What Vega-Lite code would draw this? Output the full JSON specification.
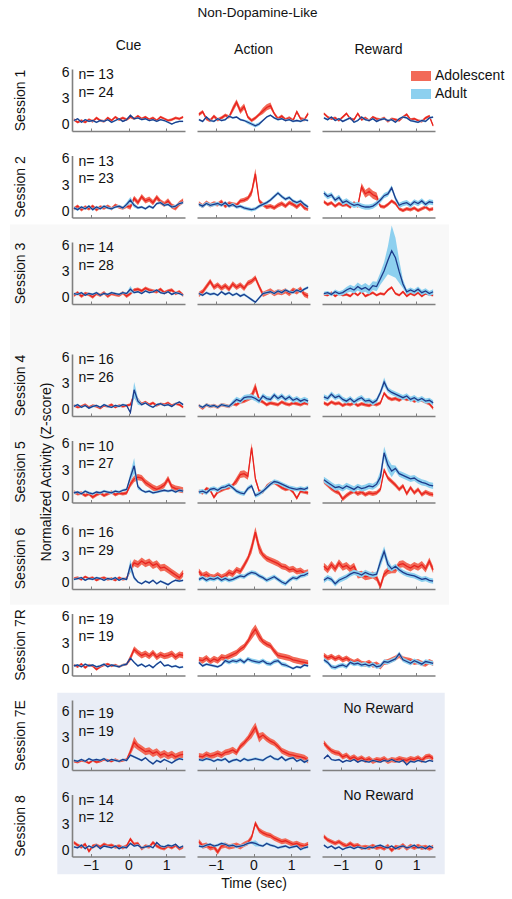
{
"$schema":"https://vega.github.io/schema/vega-lite/v6.json",
"padding":{"left":10,"top":5,"right":5,"bottom":5},
"title":{"text":"Non-Dopamine-Like","fontSize":13.5,"offset":20,"anchor":"middle"},
"data":{"values":"s,c,t,a,ae,d,de\n1,C,-1.45,.6,.15,.5,.1\n1,C,-1.35,.3,.15,.7,.1\n1,C,-1.25,.5,.15,.3,.1\n1,C,-1.15,.3,.15,.6,.1\n1,C,-1.05,.6,.15,.4,.1\n1,C,-.95,.4,.15,.5,.1\n1,C,-.85,.8,.15,.3,.1\n1,C,-.75,.5,.15,.5,.1\n1,C,-.65,.4,.15,.4,.1\n1,C,-.55,.8,.15,.6,.1\n1,C,-.45,.5,.15,.3,.1\n1,C,-.35,.9,.15,.5,.1\n1,C,-.25,.6,.15,.7,.1\n1,C,-.15,.8,.15,.4,.1\n1,C,-.05,.6,.15,.6,.1\n1,C,.05,.9,.15,1.1,.1\n1,C,.15,.7,.15,.7,.1\n1,C,.25,1,.15,.8,.1\n1,C,.35,.7,.15,.6,.1\n1,C,.45,.9,.15,.7,.1\n1,C,.55,.6,.15,.5,.1\n1,C,.65,.8,.15,.6,.1\n1,C,.75,.5,.15,.4,.1\n1,C,.85,.9,.15,.6,.1\n1,C,.95,.7,.15,.5,.1\n1,C,1.05,.5,.15,.3,.1\n1,C,1.15,.6,.15,.1,.1\n1,C,1.25,.8,.15,.3,.1\n1,C,1.35,.7,.15,.4,.1\n1,C,1.45,.9,.15,.4,.1\n1,A,-1.45,1.2,.2,.6,.12\n1,A,-1.35,1.5,.2,.4,.12\n1,A,-1.25,.7,.2,.9,.12\n1,A,-1.15,.5,.2,.5,.12\n1,A,-1.05,1,.2,.4,.12\n1,A,-.95,.6,.2,.7,.12\n1,A,-.85,.8,.2,.5,.12\n1,A,-.75,1.1,.2,.6,.12\n1,A,-.65,.9,.2,1,.12\n1,A,-.55,1.8,.35,.8,.12\n1,A,-.45,2.6,.35,.9,.12\n1,A,-.35,1.6,.35,.6,.12\n1,A,-.25,2.1,.35,.5,.12\n1,A,-.15,.9,.2,.3,.2\n1,A,-.05,.5,.2,.1,.2\n1,A,.05,.8,.2,-.1,.2\n1,A,.15,1.2,.2,.1,.2\n1,A,.25,1.6,.35,.5,.12\n1,A,.35,2,.35,.9,.12\n1,A,.45,2.2,.35,1.1,.12\n1,A,.55,1.3,.2,.8,.12\n1,A,.65,.7,.2,.6,.12\n1,A,.75,1,.2,.7,.12\n1,A,.85,.6,.2,.5,.12\n1,A,.95,.8,.2,.6,.12\n1,A,1.05,.5,.2,.4,.12\n1,A,1.15,1.5,.2,.5,.12\n1,A,1.25,.7,.2,.4,.12\n1,A,1.35,.6,.2,.6,.12\n1,A,1.45,1.3,.2,.5,.12\n1,R,-1.45,1.3,.15,.8,.12\n1,R,-1.35,.9,.15,.6,.12\n1,R,-1.25,.7,.15,.9,.12\n1,R,-1.15,.8,.15,.5,.12\n1,R,-1.05,.5,.15,.7,.12\n1,R,-.95,.9,.15,.4,.12\n1,R,-.85,1.3,.15,.6,.12\n1,R,-.75,.7,.15,.8,.12\n1,R,-.65,.6,.15,.3,.12\n1,R,-.55,1.3,.15,.5,.12\n1,R,-.45,.6,.15,.9,.12\n1,R,-.35,.8,.15,.6,.12\n1,R,-.25,.5,.15,.5,.12\n1,R,-.15,.9,.15,.7,.12\n1,R,-.05,.7,.15,.4,.12\n1,R,.05,.6,.15,.6,.12\n1,R,.15,.8,.15,.7,.12\n1,R,.25,.4,.15,.5,.12\n1,R,.35,.7,.15,.6,.12\n1,R,.45,.6,.15,.3,.12\n1,R,.55,.5,.15,.7,.12\n1,R,.65,.9,.15,.9,.12\n1,R,.75,1.2,.15,.8,.12\n1,R,.85,.6,.15,.5,.12\n1,R,.95,.7,.15,.4,.12\n1,R,1.05,.5,.15,.3,.12\n1,R,1.15,.4,.15,.5,.12\n1,R,1.25,.8,.15,.4,.12\n1,R,1.35,1,.15,.8,.12\n1,R,1.45,-.1,.15,.9,.12\n2,C,-1.45,.3,.2,.4,.15\n2,C,-1.35,.6,.2,.2,.15\n2,C,-1.25,.2,.2,.5,.15\n2,C,-1.15,.5,.2,.3,.15\n2,C,-1.05,.3,.2,.6,.15\n2,C,-.95,.6,.2,.2,.15\n2,C,-.85,.2,.2,.5,.15\n2,C,-.75,.5,.2,.3,.15\n2,C,-.65,.4,.2,.6,.15\n2,C,-.55,.6,.2,.4,.15\n2,C,-.45,.3,.2,.3,.15\n2,C,-.35,.7,.2,.5,.15\n2,C,-.25,.5,.2,.6,.15\n2,C,-.15,.4,.2,.4,.15\n2,C,-.05,.6,.2,.8,.25\n2,C,.05,.5,.3,1.3,.35\n2,C,.15,1.5,.3,.7,.25\n2,C,.25,1,.3,.4,.15\n2,C,.35,1.7,.3,.5,.15\n2,C,.45,1.2,.3,.3,.15\n2,C,.55,1.4,.3,.6,.15\n2,C,.65,1,.3,.4,.15\n2,C,.75,1.6,.3,.9,.15\n2,C,.85,1.1,.3,1,.15\n2,C,.95,.8,.3,.7,.15\n2,C,1.05,1.2,.3,.8,.15\n2,C,1.15,.6,.3,.5,.15\n2,C,1.25,.4,.3,.6,.15\n2,C,1.35,.9,.3,.9,.15\n2,C,1.45,1.2,.3,1,.15\n2,A,-1.45,.9,.25,.8,.2\n2,A,-1.35,.6,.25,.6,.2\n2,A,-1.25,1,.25,.9,.2\n2,A,-1.15,.7,.25,.7,.2\n2,A,-1.05,.9,.25,.8,.2\n2,A,-.95,.8,.25,.9,.2\n2,A,-.85,1.1,.25,.7,.2\n2,A,-.75,.6,.25,1,.2\n2,A,-.65,.9,.25,.6,.2\n2,A,-.55,.8,.25,.8,.2\n2,A,-.45,.7,.25,.5,.2\n2,A,-.35,1.2,.25,.6,.2\n2,A,-.25,1.3,.25,.4,.2\n2,A,-.15,1.5,.25,.3,.2\n2,A,-.05,2.2,.4,.2,.2\n2,A,.05,4.3,.6,.3,.2\n2,A,.15,1.2,.25,.6,.2\n2,A,.25,.8,.25,.8,.2\n2,A,.35,.5,.25,1,.2\n2,A,.45,.6,.25,1.3,.2\n2,A,.55,.4,.25,1.7,.2\n2,A,.65,.7,.25,2.1,.2\n2,A,.75,.9,.25,1.7,.2\n2,A,.85,.6,.25,1.4,.2\n2,A,.95,1,.25,1.6,.2\n2,A,1.05,.8,.25,1.2,.2\n2,A,1.15,.5,.25,1,.2\n2,A,1.25,.9,.25,1.2,.2\n2,A,1.35,.4,.25,.8,.2\n2,A,1.45,.3,.25,.5,.2\n2,R,-1.45,1.1,.2,2.1,.3\n2,R,-1.35,.8,.2,1.7,.3\n2,R,-1.25,1,.2,1.9,.3\n2,R,-1.15,.6,.2,1.3,.3\n2,R,-1.05,.9,.2,1.6,.3\n2,R,-.95,.7,.2,1,.3\n2,R,-.85,.8,.2,1.2,.3\n2,R,-.75,.5,.2,.9,.3\n2,R,-.65,1,.2,.7,.3\n2,R,-.55,.6,.2,.8,.3\n2,R,-.45,2.8,.45,.6,.3\n2,R,-.35,2,.45,.5,.3\n2,R,-.25,2.3,.45,.5,.3\n2,R,-.15,1.9,.45,.6,.3\n2,R,-.05,1.7,.45,.9,.3\n2,R,.05,.6,.2,1.3,.3\n2,R,.15,.5,.2,1.8,.3\n2,R,.25,.8,.2,2,.3\n2,R,.35,1.2,.2,2.7,.3\n2,R,.45,.9,.2,1.5,.3\n2,R,.55,.3,.2,.7,.3\n2,R,.65,.1,.2,.9,.3\n2,R,.75,.3,.2,1,.3\n2,R,.85,.2,.2,.7,.3\n2,R,.95,.4,.2,1.1,.3\n2,R,1.05,.1,.2,.9,.3\n2,R,1.15,.3,.2,1.2,.3\n2,R,1.25,.5,.2,.8,.3\n2,R,1.35,.2,.2,1.1,.3\n2,R,1.45,.3,.2,1,.3\n3,C,-1.45,.3,.2,.5,.12\n3,C,-1.35,.6,.2,.4,.12\n3,C,-1.25,.2,.2,.6,.12\n3,C,-1.15,.5,.2,.3,.12\n3,C,-1.05,.4,.2,.5,.12\n3,C,-.95,.1,.2,.4,.12\n3,C,-.85,.5,.2,.6,.12\n3,C,-.75,.3,.2,.3,.12\n3,C,-.65,.6,.2,.5,.12\n3,C,-.55,.2,.2,.4,.12\n3,C,-.45,.5,.2,.6,.12\n3,C,-.35,.4,.2,.5,.12\n3,C,-.25,.3,.2,.4,.12\n3,C,-.15,.6,.2,.6,.12\n3,C,-.05,.2,.2,.5,.12\n3,C,.05,.5,.2,1,.35\n3,C,.15,.9,.2,.6,.12\n3,C,.25,1,.2,.7,.12\n3,C,.35,.8,.2,.5,.12\n3,C,.45,1.1,.2,.8,.12\n3,C,.55,.9,.2,.6,.12\n3,C,.65,.8,.2,.7,.12\n3,C,.75,.7,.2,.9,.12\n3,C,.85,1,.2,.6,.12\n3,C,.95,.6,.2,.5,.12\n3,C,1.05,.8,.2,.7,.12\n3,C,1.15,.9,.2,.4,.12\n3,C,1.25,.5,.2,.6,.12\n3,C,1.35,.7,.2,.5,.12\n3,C,1.45,.3,.2,.3,.12\n3,A,-1.45,.4,.3,.5,.15\n3,A,-1.35,.7,.3,.3,.15\n3,A,-1.25,1.3,.3,.6,.15\n3,A,-1.15,1.9,.3,.4,.15\n3,A,-1.05,1.2,.3,.5,.15\n3,A,-.95,1.5,.3,.3,.15\n3,A,-.85,1.1,.3,.7,.15\n3,A,-.75,1.4,.3,.4,.15\n3,A,-.65,1,.3,.6,.15\n3,A,-.55,1.6,.3,.3,.15\n3,A,-.45,1.2,.3,.5,.15\n3,A,-.35,1.5,.3,.2,.15\n3,A,-.25,1.1,.3,.4,.15\n3,A,-.15,1.7,.3,.1,.15\n3,A,-.05,1.9,.3,-.2,.15\n3,A,.05,2.3,.3,-.5,.15\n3,A,.15,1.3,.3,0,.15\n3,A,.25,.4,.3,.5,.15\n3,A,.35,.6,.3,.6,.15\n3,A,.45,.8,.3,.7,.15\n3,A,.55,.5,.3,.5,.15\n3,A,.65,.7,.3,.8,.15\n3,A,.75,.6,.3,.6,.15\n3,A,.85,.8,.3,.9,.15\n3,A,.95,.5,.3,.7,.15\n3,A,1.05,.9,.3,.6,.15\n3,A,1.15,.7,.3,.9,.15\n3,A,1.25,1,.3,.7,.15\n3,A,1.35,.4,.3,1,.15\n3,A,1.45,.2,.3,1.2,.15\n3,R,-1.45,.4,.15,.5,.2\n3,R,-1.35,.3,.15,.6,.2\n3,R,-1.25,.6,.15,.4,.2\n3,R,-1.15,.2,.15,.7,.25\n3,R,-1.05,.5,.15,.5,.25\n3,R,-.95,.3,.15,.6,.3\n3,R,-.85,.4,.15,.9,.35\n3,R,-.75,.2,.15,1.1,.4\n3,R,-.65,.6,.15,.9,.4\n3,R,-.55,.3,.15,1.3,.45\n3,R,-.45,.7,.15,1,.45\n3,R,-.35,.2,.15,1.2,.5\n3,R,-.25,.4,.15,.9,.5\n3,R,-.15,.6,.15,1.4,.5\n3,R,-.05,.3,.15,1.3,.55\n3,R,.05,.5,.15,2.2,.7\n3,R,.15,.4,.15,3.1,1\n3,R,.25,.9,.15,4.3,1.6\n3,R,.35,1.2,.15,5.4,2.9\n3,R,.45,.5,.15,4.6,2.3\n3,R,.55,.3,.15,3,1.3\n3,R,.65,.7,.15,1.6,.5\n3,R,.75,.2,.15,.7,.3\n3,R,.85,.5,.15,.9,.3\n3,R,.95,.3,.15,.7,.3\n3,R,1.05,.6,.15,1,.3\n3,R,1.15,.2,.15,.6,.3\n3,R,1.25,.5,.15,.8,.3\n3,R,1.35,.4,.15,.5,.3\n3,R,1.45,.3,.15,.7,.3\n4,C,-1.45,.5,.15,.4,.12\n4,C,-1.35,.3,.15,.6,.12\n4,C,-1.25,.4,.15,.3,.12\n4,C,-1.15,.6,.15,.5,.12\n4,C,-1.05,.3,.15,.2,.12\n4,C,-.95,.5,.15,.4,.12\n4,C,-.85,.4,.15,.5,.12\n4,C,-.75,.2,.15,.3,.12\n4,C,-.65,.5,.15,.6,.12\n4,C,-.55,.4,.15,.4,.12\n4,C,-.45,.6,.15,.3,.12\n4,C,-.35,.3,.15,.5,.12\n4,C,-.25,.5,.15,.4,.12\n4,C,-.15,.4,.15,.6,.12\n4,C,-.05,.5,.15,.5,.12\n4,C,.05,.6,.15,-.3,.12\n4,C,.15,1.8,.4,2.3,.9\n4,C,.25,1.1,.3,1,.4\n4,C,.35,.7,.15,.6,.12\n4,C,.45,.9,.15,.8,.12\n4,C,.55,.6,.15,.5,.12\n4,C,.65,.8,.15,.3,.12\n4,C,.75,.5,.15,.6,.12\n4,C,.85,.7,.15,.7,.12\n4,C,.95,.6,.15,.5,.12\n4,C,1.05,.8,.15,.6,.12\n4,C,1.15,.5,.15,.4,.12\n4,C,1.25,.7,.15,.7,.12\n4,C,1.35,.6,.15,.9,.12\n4,C,1.45,.3,.15,.6,.12\n4,A,-1.45,.5,.2,.5,.15\n4,A,-1.35,.2,.2,.3,.15\n4,A,-1.25,.6,.2,.6,.15\n4,A,-1.15,.4,.2,.4,.15\n4,A,-1.05,.5,.2,.5,.15\n4,A,-.95,.3,.2,.3,.15\n4,A,-.85,.6,.2,.6,.15\n4,A,-.75,.5,.2,.5,.15\n4,A,-.65,.4,.2,.4,.15\n4,A,-.55,.7,.2,.8,.3\n4,A,-.45,.6,.2,1.2,.3\n4,A,-.35,.9,.2,1,.3\n4,A,-.25,1,.2,1.4,.3\n4,A,-.15,1.3,.3,1.5,.3\n4,A,-.05,1.6,.4,1.5,.3\n4,A,.05,2.6,.5,1.3,.3\n4,A,.15,1.2,.3,1,.3\n4,A,.25,.9,.2,1.6,.3\n4,A,.35,.6,.2,1.3,.3\n4,A,.45,.8,.2,1.2,.3\n4,A,.55,.7,.2,1.7,.3\n4,A,.65,.6,.2,1.3,.3\n4,A,.75,.9,.2,1.6,.3\n4,A,.85,.7,.2,1.2,.3\n4,A,.95,.6,.2,1.5,.3\n4,A,1.05,.8,.2,1.1,.3\n4,A,1.15,.7,.2,1.3,.3\n4,A,1.25,.6,.2,1,.3\n4,A,1.35,.8,.2,1.2,.3\n4,A,1.45,.7,.2,1,.3\n4,R,-1.45,.8,.2,1.5,.3\n4,R,-1.35,.6,.2,1.3,.3\n4,R,-1.25,.9,.2,1.8,.3\n4,R,-1.15,.7,.2,1.4,.3\n4,R,-1.05,.8,.2,1.6,.3\n4,R,-.95,.5,.2,1.2,.3\n4,R,-.85,.7,.2,1,.3\n4,R,-.75,.6,.2,1.3,.3\n4,R,-.65,.8,.2,.9,.3\n4,R,-.55,.5,.2,1.2,.3\n4,R,-.45,.7,.2,1.4,.3\n4,R,-.35,.6,.2,1,.3\n4,R,-.25,.5,.2,1.1,.3\n4,R,-.15,.7,.2,.8,.3\n4,R,-.05,.6,.2,1.1,.3\n4,R,.05,.8,.2,2,.3\n4,R,.15,1.9,.2,3.2,.5\n4,R,.25,1.4,.2,2.3,.3\n4,R,.35,1.2,.2,2,.3\n4,R,.45,1.3,.2,1.8,.3\n4,R,.55,1.1,.2,1.6,.3\n4,R,.65,1.4,.2,1.4,.3\n4,R,.75,1.2,.2,1.6,.3\n4,R,.85,1.3,.2,1.2,.3\n4,R,.95,1,.2,1.4,.3\n4,R,1.05,1.2,.2,1.1,.3\n4,R,1.15,1.1,.2,1.3,.3\n4,R,1.25,.9,.2,1,.3\n4,R,1.35,.7,.2,1.1,.3\n4,R,1.45,.2,.2,.8,.3\n5,C,-1.45,.5,.2,.4,.15\n5,C,-1.35,.3,.2,.5,.15\n5,C,-1.25,.4,.2,.3,.15\n5,C,-1.15,.1,.2,.6,.15\n5,C,-1.05,.3,.2,.4,.15\n5,C,-.95,-.1,.2,.3,.15\n5,C,-.85,.2,.2,.5,.15\n5,C,-.75,.4,.2,.4,.15\n5,C,-.65,.1,.2,.6,.15\n5,C,-.55,.3,.2,.5,.15\n5,C,-.45,.5,.2,.4,.15\n5,C,-.35,.2,.2,.6,.15\n5,C,-.25,.4,.2,.5,.15\n5,C,-.15,.3,.2,.7,.15\n5,C,-.05,.4,.2,.8,.15\n5,C,.05,1.4,.35,2.2,.5\n5,C,.15,2,.35,3.5,.9\n5,C,.25,2.2,.35,1.1,.3\n5,C,.35,2.1,.35,.7,.15\n5,C,.45,1.6,.35,.5,.15\n5,C,.55,1.3,.35,.6,.15\n5,C,.65,1,.35,.4,.15\n5,C,.75,.8,.35,.5,.15\n5,C,.85,1,.35,.6,.15\n5,C,.95,1.3,.35,.7,.15\n5,C,1.05,2,.35,.6,.15\n5,C,1.15,1.1,.35,.7,.15\n5,C,1.25,.9,.35,.5,.15\n5,C,1.35,.8,.35,.7,.15\n5,C,1.45,.7,.35,.6,.15\n5,A,-1.45,.6,.2,.5,.25\n5,A,-1.35,.4,.2,.6,.25\n5,A,-1.25,.9,.2,.4,.25\n5,A,-1.15,.7,.2,.8,.25\n5,A,-1.05,-.1,.2,.9,.25\n5,A,-.95,.5,.2,.7,.25\n5,A,-.85,.7,.2,1,.25\n5,A,-.75,.9,.2,1.1,.25\n5,A,-.65,1,.2,1.3,.25\n5,A,-.55,1.3,.2,1,.25\n5,A,-.45,1.8,.4,.6,.25\n5,A,-.35,2.5,.4,.4,.25\n5,A,-.25,2.6,.4,.3,.25\n5,A,-.15,2.3,.4,.9,.25\n5,A,-.05,5.6,.5,1.2,.25\n5,A,.05,2,.3,.1,.25\n5,A,.15,.6,.2,.3,.25\n5,A,.25,.5,.2,.6,.25\n5,A,.35,1.2,.2,1,.25\n5,A,.45,1.5,.2,1.4,.25\n5,A,.55,1.6,.2,1.7,.25\n5,A,.65,1.3,.2,1.6,.25\n5,A,.75,1,.2,1.4,.25\n5,A,.85,.8,.2,1.2,.25\n5,A,.95,.9,.2,1,.25\n5,A,1.05,.5,.2,.9,.25\n5,A,1.15,-.2,.2,.8,.25\n5,A,1.25,.6,.2,.9,.25\n5,A,1.35,.5,.2,.8,.25\n5,A,1.45,.4,.2,1,.25\n5,R,-1.45,1.7,.25,1.9,.35\n5,R,-1.35,1.3,.25,1.6,.35\n5,R,-1.25,.9,.25,1.3,.35\n5,R,-1.15,.6,.25,1,.35\n5,R,-1.05,.4,.25,1.1,.35\n5,R,-.95,-.3,.25,.9,.35\n5,R,-.85,.1,.25,1.2,.35\n5,R,-.75,.4,.25,1,.35\n5,R,-.65,.6,.25,.8,.35\n5,R,-.55,.3,.25,1.1,.35\n5,R,-.45,.5,.25,.9,.35\n5,R,-.35,.2,.25,1,.35\n5,R,-.25,.4,.25,1.2,.35\n5,R,-.15,.3,.25,1.1,.35\n5,R,-.05,.4,.25,1.4,.35\n5,R,.05,.8,.25,2.2,.7\n5,R,.15,3,.25,5,.7\n5,R,.25,2.1,.25,3.6,.7\n5,R,.35,1.7,.25,2.9,.7\n5,R,.45,1.3,.25,3.2,.35\n5,R,.55,.8,.25,2.6,.35\n5,R,.65,1.2,.25,2.4,.35\n5,R,.75,.3,.25,2.2,.35\n5,R,.85,1,.25,2,.35\n5,R,.95,.4,.25,2.1,.35\n5,R,1.05,.8,.25,1.8,.35\n5,R,1.15,.2,.25,1.6,.35\n5,R,1.25,.5,.25,1.5,.35\n5,R,1.35,.3,.25,1.3,.35\n5,R,1.45,.2,.25,1.2,.35\n6,C,-1.45,.5,.15,.4,.12\n6,C,-1.35,.6,.15,.5,.12\n6,C,-1.25,.4,.15,.6,.12\n6,C,-1.15,.7,.15,.3,.12\n6,C,-1.05,.5,.15,.5,.12\n6,C,-.95,.6,.15,.4,.12\n6,C,-.85,.3,.15,.6,.12\n6,C,-.75,.5,.15,.5,.12\n6,C,-.65,.6,.15,.3,.12\n6,C,-.55,.4,.15,.5,.12\n6,C,-.45,.5,.15,.4,.12\n6,C,-.35,.3,.15,.6,.12\n6,C,-.25,.6,.15,.3,.12\n6,C,-.15,.4,.15,.5,.12\n6,C,-.05,.5,.15,.4,.12\n6,C,.05,1.6,.4,2,.7\n6,C,.15,2.3,.4,.6,.25\n6,C,.25,2.1,.4,.1,.12\n6,C,.35,2.5,.4,-.1,.12\n6,C,.45,2.2,.4,.2,.12\n6,C,.55,2.4,.4,0,.12\n6,C,.65,2,.4,.3,.12\n6,C,.75,2.2,.4,-.1,.12\n6,C,.85,1.7,.4,.2,.12\n6,C,.95,1.8,.4,0,.12\n6,C,1.05,1.5,.4,-.2,.12\n6,C,1.15,1.2,.4,.1,.12\n6,C,1.25,.9,.4,.3,.12\n6,C,1.35,.6,.4,.2,.12\n6,C,1.45,1.1,.4,.3,.12\n6,A,-1.45,1.3,.35,.4,.25\n6,A,-1.35,.8,.35,.6,.25\n6,A,-1.25,1,.35,.3,.25\n6,A,-1.15,.7,.35,.5,.25\n6,A,-1.05,.6,.35,.4,.25\n6,A,-.95,.9,.35,.6,.25\n6,A,-.85,.6,.35,.3,.25\n6,A,-.75,.8,.35,.5,.25\n6,A,-.65,1.2,.35,.3,.25\n6,A,-.55,1,.35,.4,.25\n6,A,-.45,1.5,.35,.6,.25\n6,A,-.35,1.3,.35,.8,.25\n6,A,-.25,2,.35,.7,.25\n6,A,-.15,2.8,.35,1,.25\n6,A,-.05,4,.6,1.2,.25\n6,A,.05,5.8,.6,1.1,.25\n6,A,.15,4,.6,.8,.25\n6,A,.25,3.2,.35,.6,.25\n6,A,.35,2.8,.35,.3,.25\n6,A,.45,2.6,.35,.5,.25\n6,A,.55,2.4,.35,.7,.25\n6,A,.65,2.2,.35,.4,.25\n6,A,.75,1.9,.35,.1,.25\n6,A,.85,1.8,.35,-.1,.25\n6,A,.95,1.5,.35,.3,.25\n6,A,1.05,1.6,.35,.6,.25\n6,A,1.15,1.3,.35,.5,.25\n6,A,1.25,1.4,.35,.8,.25\n6,A,1.35,1.1,.35,.9,.25\n6,A,1.45,1.2,.35,1.1,.25\n6,R,-1.45,1.9,.4,.3,.3\n6,R,-1.35,1.5,.4,.6,.3\n6,R,-1.25,2.1,.4,.4,.3\n6,R,-1.15,1.6,.4,-.1,.3\n6,R,-1.05,2.3,.4,.3,.3\n6,R,-.95,1.8,.4,.5,.3\n6,R,-.85,2,.4,.7,.3\n6,R,-.75,1.6,.4,1,.3\n6,R,-.65,1.9,.4,1.2,.3\n6,R,-.55,.9,.4,1.1,.3\n6,R,-.45,1,.4,.9,.3\n6,R,-.35,.7,.4,1.2,.3\n6,R,-.25,.8,.4,1,.3\n6,R,-.15,.9,.4,.9,.3\n6,R,-.05,.6,.4,1,.3\n6,R,.05,-.4,.4,2.4,.6\n6,R,.15,1,.4,3.6,.6\n6,R,.25,1.4,.4,2.1,.6\n6,R,.35,1.5,.4,1.6,.3\n6,R,.45,1.5,.4,1.9,.3\n6,R,.55,2.1,.4,1.5,.3\n6,R,.65,2.2,.4,1.2,.3\n6,R,.75,1.9,.4,1,.3\n6,R,.85,1.7,.4,.9,.3\n6,R,.95,2,.4,.8,.3\n6,R,1.05,1.8,.4,.6,.3\n6,R,1.15,2.1,.4,.4,.3\n6,R,1.25,1.6,.4,.5,.3\n6,R,1.35,2.5,.4,.3,.3\n6,R,1.45,1.5,.4,.2,.3\n7R,C,-1.45,.5,.15,.4,.12\n7R,C,-1.35,.3,.15,.5,.12\n7R,C,-1.25,.6,.15,.3,.12\n7R,C,-1.15,.2,.15,.6,.12\n7R,C,-1.05,.5,.15,.4,.12\n7R,C,-.95,.4,.15,.5,.12\n7R,C,-.85,0,.15,.3,.12\n7R,C,-.75,.3,.15,.4,.12\n7R,C,-.65,.5,.15,.6,.12\n7R,C,-.55,.6,.15,.3,.12\n7R,C,-.45,.4,.15,.5,.12\n7R,C,-.35,.5,.15,.4,.12\n7R,C,-.25,.3,.15,.3,.12\n7R,C,-.15,.5,.15,.5,.12\n7R,C,-.05,.6,.15,.6,.12\n7R,C,.05,1.3,.35,1.3,.12\n7R,C,.15,2.3,.35,.8,.12\n7R,C,.25,1.9,.35,.4,.12\n7R,C,.35,1.6,.35,.6,.12\n7R,C,.45,1.8,.35,.3,.12\n7R,C,.55,1.5,.35,.5,.12\n7R,C,.65,1.9,.35,.2,.12\n7R,C,.75,1.4,.35,.6,.12\n7R,C,.85,1.7,.35,.9,.12\n7R,C,.95,1.5,.35,.4,.12\n7R,C,1.05,1.6,.35,.5,.12\n7R,C,1.15,1.8,.35,.3,.12\n7R,C,1.25,1.4,.35,.4,.12\n7R,C,1.35,1.7,.35,.2,.12\n7R,C,1.45,1.6,.35,.3,.12\n7R,A,-1.45,1.1,.35,.8,.15\n7R,A,-1.35,1,.35,.4,.15\n7R,A,-1.25,1.3,.35,.6,.15\n7R,A,-1.15,.9,.35,.5,.15\n7R,A,-1.05,1.2,.35,.4,.15\n7R,A,-.95,1,.35,.3,.15\n7R,A,-.85,1.4,.35,.5,.15\n7R,A,-.75,1.3,.35,1,.25\n7R,A,-.65,1.5,.35,.8,.25\n7R,A,-.55,1.7,.35,1,.25\n7R,A,-.45,1.9,.35,.9,.25\n7R,A,-.35,2.3,.35,1.1,.25\n7R,A,-.25,2.6,.35,.8,.25\n7R,A,-.15,3.2,.35,1.2,.25\n7R,A,-.05,4,.55,1,.25\n7R,A,.05,4.6,.55,.9,.25\n7R,A,.15,3.8,.55,.8,.25\n7R,A,.25,3.2,.35,1,.25\n7R,A,.35,2.9,.35,.7,.25\n7R,A,.45,2.7,.35,.6,.25\n7R,A,.55,2.1,.35,.9,.25\n7R,A,.65,1.6,.35,1,.25\n7R,A,.75,1.5,.35,.6,.25\n7R,A,.85,1.4,.35,.5,.25\n7R,A,.95,1.3,.35,.3,.15\n7R,A,1.05,1.1,.35,.1,.15\n7R,A,1.15,1,.35,.3,.15\n7R,A,1.25,.9,.35,.2,.15\n7R,A,1.35,.8,.35,.5,.15\n7R,A,1.45,.7,.35,.4,.15\n7R,R,-1.45,1.6,.3,1.1,.25\n7R,R,-1.35,1.3,.3,.8,.25\n7R,R,-1.25,1.5,.3,.3,.25\n7R,R,-1.15,1.2,.3,.2,.25\n7R,R,-1.05,1.4,.3,.4,.25\n7R,R,-.95,1.1,.3,.5,.25\n7R,R,-.85,1.3,.3,.3,.25\n7R,R,-.75,1,.3,.8,.25\n7R,R,-.65,.8,.3,.6,.25\n7R,R,-.55,1,.3,.7,.25\n7R,R,-.45,.7,.3,.5,.25\n7R,R,-.35,.6,.3,.6,.25\n7R,R,-.25,.8,.3,.4,.25\n7R,R,-.15,.5,.3,.6,.25\n7R,R,-.05,.6,.3,.3,.25\n7R,R,.05,.3,.3,.4,.25\n7R,R,.15,.8,.3,.9,.25\n7R,R,.25,.9,.3,.8,.25\n7R,R,.35,1.1,.3,1,.25\n7R,R,.45,1.3,.3,1.2,.25\n7R,R,.55,1.6,.3,1.8,.25\n7R,R,.65,1.2,.3,1.1,.25\n7R,R,.75,1.1,.3,.9,.25\n7R,R,.85,1,.3,.7,.25\n7R,R,.95,.8,.3,1,.25\n7R,R,1.05,.9,.3,.8,.25\n7R,R,1.15,.7,.3,.6,.25\n7R,R,1.25,.6,.3,.9,.25\n7R,R,1.35,.9,.3,.8,.25\n7R,R,1.45,.7,.3,.7,.25\n7E,C,-1.45,.3,.15,.4,.12\n7E,C,-1.35,.2,.15,.3,.12\n7E,C,-1.25,.4,.15,.5,.12\n7E,C,-1.15,.3,.15,.3,.12\n7E,C,-1.05,.1,.15,.6,.12\n7E,C,-.95,.4,.15,.4,.12\n7E,C,-.85,.2,.15,.5,.12\n7E,C,-.75,.3,.15,.4,.12\n7E,C,-.65,.5,.15,.6,.12\n7E,C,-.55,.4,.15,.3,.12\n7E,C,-.45,.3,.15,.5,.12\n7E,C,-.35,.5,.15,.4,.12\n7E,C,-.25,.3,.15,.3,.12\n7E,C,-.15,.4,.15,.5,.12\n7E,C,-.05,.5,.15,.4,.12\n7E,C,.05,1.4,.4,1,.12\n7E,C,.15,2.5,.6,.8,.12\n7E,C,.25,2,.4,.6,.12\n7E,C,.35,1.7,.4,.4,.12\n7E,C,.45,1.4,.4,.7,.12\n7E,C,.55,1.5,.4,.3,.12\n7E,C,.65,1.2,.4,0,.12\n7E,C,.75,1.4,.4,.4,.12\n7E,C,.85,1,.4,.2,.12\n7E,C,.95,1.2,.4,.5,.12\n7E,C,1.05,.9,.4,.3,.12\n7E,C,1.15,1.1,.4,.1,.12\n7E,C,1.25,.8,.4,.4,.12\n7E,C,1.35,1,.4,.6,.12\n7E,C,1.45,1.1,.4,.5,.12\n7E,A,-1.45,.9,.35,.5,.15\n7E,A,-1.35,.8,.35,.4,.15\n7E,A,-1.25,1.1,.35,.6,.15\n7E,A,-1.15,.9,.35,.5,.15\n7E,A,-1.05,1,.35,.3,.15\n7E,A,-.95,1.2,.35,.5,.15\n7E,A,-.85,1,.35,.4,.15\n7E,A,-.75,1.3,.35,.6,.15\n7E,A,-.65,1.4,.35,.2,.15\n7E,A,-.55,1.6,.35,.4,.15\n7E,A,-.45,1.3,.35,.5,.15\n7E,A,-.35,2,.35,.3,.15\n7E,A,-.25,2.4,.35,.6,.15\n7E,A,-.15,2.9,.35,.4,.15\n7E,A,-.05,3.5,.55,.5,.15\n7E,A,.05,4.2,.55,.6,.15\n7E,A,.15,3,.55,.5,.15\n7E,A,.25,3.3,.35,.4,.15\n7E,A,.35,2.9,.35,.7,.15\n7E,A,.45,2.6,.35,.9,.15\n7E,A,.55,2.4,.35,.6,.15\n7E,A,.65,2,.35,.5,.15\n7E,A,.75,1.5,.35,.8,.15\n7E,A,.85,1.3,.35,.4,.15\n7E,A,.95,1.1,.35,.6,.15\n7E,A,1.05,1,.35,.7,.15\n7E,A,1.15,.9,.35,.3,.15\n7E,A,1.25,.8,.35,.5,.15\n7E,A,1.35,.7,.35,.2,.15\n7E,A,1.45,.4,.35,.4,.15\n7E,R,-1.45,2.4,.3,.6,.1\n7E,R,-1.35,1.9,.3,1,.1\n7E,R,-1.25,1.5,.3,.5,.1\n7E,R,-1.15,1.3,.3,.4,.1\n7E,R,-1.05,1.2,.3,.5,.1\n7E,R,-.95,.8,.3,.2,.1\n7E,R,-.85,1,.3,.4,.1\n7E,R,-.75,.6,.3,.3,.1\n7E,R,-.65,.8,.3,.5,.1\n7E,R,-.55,.5,.3,.2,.1\n7E,R,-.45,.7,.3,.4,.1\n7E,R,-.35,.4,.3,.3,.1\n7E,R,-.25,.6,.3,.2,.1\n7E,R,-.15,.3,.3,.4,.1\n7E,R,-.05,.5,.3,.3,.1\n7E,R,.05,.4,.3,.2,.1\n7E,R,.15,.6,.3,.4,.1\n7E,R,.25,.3,.3,.3,.1\n7E,R,.35,.5,.3,.5,.1\n7E,R,.45,.4,.3,.3,.1\n7E,R,.55,.6,.3,.2,.1\n7E,R,.65,.5,.3,.4,.1\n7E,R,.75,.4,.3,-.1,.1\n7E,R,.85,.6,.3,.3,.1\n7E,R,.95,.5,.3,.2,.1\n7E,R,1.05,.7,.3,.4,.1\n7E,R,1.15,.4,.3,.3,.1\n7E,R,1.25,.8,.3,.2,.1\n7E,R,1.35,.9,.3,.4,.1\n7E,R,1.45,.6,.3,.3,.1\n8,C,-1.45,.9,.2,.4,.12\n8,C,-1.35,.6,.2,.3,.12\n8,C,-1.25,.4,.2,.6,.12\n8,C,-1.15,.7,.2,.2,.12\n8,C,-1.05,-.1,.2,.5,.12\n8,C,-.95,.5,.2,.3,.12\n8,C,-.85,.6,.2,.6,.12\n8,C,-.75,.4,.2,.2,.12\n8,C,-.65,.7,.2,.5,.12\n8,C,-.55,.5,.2,.4,.12\n8,C,-.45,.6,.2,.3,.12\n8,C,-.35,.4,.2,.5,.12\n8,C,-.25,.5,.2,.2,.12\n8,C,-.15,.3,.2,.4,.12\n8,C,-.05,.5,.2,.3,.12\n8,C,.05,1.3,.2,.8,.12\n8,C,.15,.7,.2,.5,.12\n8,C,.25,.8,.2,.6,.12\n8,C,.35,.2,.2,.3,.12\n8,C,.45,.5,.2,.4,.12\n8,C,.55,.4,.2,.5,.12\n8,C,.65,.9,.2,.3,.12\n8,C,.75,.5,.2,.9,.12\n8,C,.85,.3,.2,.5,.12\n8,C,.95,.2,.2,.4,.12\n8,C,1.05,.5,.2,.6,.12\n8,C,1.15,.3,.2,.5,.12\n8,C,1.25,.6,.2,.7,.12\n8,C,1.35,.2,.2,.3,.12\n8,C,1.45,.4,.2,.5,.12\n8,A,-1.45,1,.3,.5,.15\n8,A,-1.35,.5,.3,.4,.15\n8,A,-1.25,.6,.3,.6,.15\n8,A,-1.15,.3,.3,.7,.15\n8,A,-1.05,.4,.3,.5,.15\n8,A,-.95,-.2,.3,.6,.15\n8,A,-.85,.5,.3,.8,.15\n8,A,-.75,.6,.3,.7,.15\n8,A,-.65,.4,.3,.5,.15\n8,A,-.55,.5,.3,.6,.15\n8,A,-.45,.6,.3,.4,.15\n8,A,-.35,.4,.3,.5,.15\n8,A,-.25,.7,.3,.6,.15\n8,A,-.15,.9,.3,.8,.15\n8,A,-.05,1.5,.3,.9,.15\n8,A,.05,3.1,.3,.8,.35\n8,A,.15,2.3,.3,.6,.15\n8,A,.25,2,.3,.5,.15\n8,A,.35,1.8,.3,.8,.15\n8,A,.45,1.7,.3,.6,.15\n8,A,.55,1.4,.3,.5,.15\n8,A,.65,1.2,.3,.3,.15\n8,A,.75,1,.3,.4,.15\n8,A,.85,1.1,.3,.5,.15\n8,A,.95,.9,.3,.3,.15\n8,A,1.05,.7,.3,.4,.15\n8,A,1.15,.8,.3,.5,.15\n8,A,1.25,.6,.3,.1,.15\n8,A,1.35,.5,.3,.3,.15\n8,A,1.45,.7,.3,.4,.15\n8,R,-1.45,1.6,.25,.6,.12\n8,R,-1.35,1.2,.25,.3,.12\n8,R,-1.25,1,.25,.5,.12\n8,R,-1.15,.8,.25,.2,.12\n8,R,-1.05,1,.25,.4,.12\n8,R,-.95,.7,.25,.1,.12\n8,R,-.85,.5,.25,.3,.12\n8,R,-.75,.8,.25,.4,.12\n8,R,-.65,.5,.25,.2,.12\n8,R,-.55,.6,.25,.4,.12\n8,R,-.45,.3,.25,.3,.12\n8,R,-.35,.4,.25,.2,.12\n8,R,-.25,.3,.25,.4,.12\n8,R,-.15,.5,.25,.3,.12\n8,R,-.05,.3,.25,.5,.12\n8,R,.05,.4,.25,.6,.12\n8,R,.15,.2,.25,.4,.12\n8,R,.25,.5,.25,.3,.12\n8,R,.35,0,.25,.5,.12\n8,R,.45,.4,.25,.2,.12\n8,R,.55,.3,.25,.4,.12\n8,R,.65,.6,.25,.5,.12\n8,R,.75,.2,.25,.3,.12\n8,R,.85,.5,.25,.4,.12\n8,R,.95,.3,.25,.6,.12\n8,R,1.05,.5,.25,.3,.12\n8,R,1.15,.3,.25,.4,.12\n8,R,1.25,.4,.25,.2,.12\n8,R,1.35,.2,.25,.5,.12\n8,R,1.45,.4,.25,.3,.12","format":{"type":"csv","parse":{"t":"number","a":"number","ae":"number","d":"number","de":"number"}}},
"datasets":{"lab":[{"s":"1","n1":"n= 13","n2":"n= 24"},{"s":"2","n1":"n= 13","n2":"n= 23"},{"s":"3","n1":"n= 14","n2":"n= 28"},{"s":"4","n1":"n= 16","n2":"n= 26"},{"s":"5","n1":"n= 10","n2":"n= 27"},{"s":"6","n1":"n= 16","n2":"n= 29"},{"s":"7R","n1":"n= 19","n2":"n= 19"},{"s":"7E","n1":"n= 19","n2":"n= 19","note":"No Reward"},{"s":"8","n1":"n= 14","n2":"n= 12","note":"No Reward"}]},
"columns":3,
"spacing":{"row":24.5,"column":12},
"bounds":"flush",
"concat":[
{"width":113,"height":62,"title":{"text":"Cue","frame":"group","offset":12},"layer":[
{"transform":[{"filter":"datum.s=='1'&&datum.c=='C'"}],"encoding":{"x":{"field":"t","type":"quantitative","scale":{"domain":[-1.5,1.5]},"axis":{"values":[-1,0,1],"labels":false,"title":null}}},"layer":[
{"mark":{"type":"errorband","color":"#f26a58","opacity":1},"encoding":{"y":{"field":"a","type":"quantitative","title":"Session 1","scale":{"domain":[-0.7,6.4]},"axis":{"values":[0,3,6],"tickCount":3,"titlePadding":34,"labelOverlap":false}},"yError":{"field":"ae"}}},
{"mark":{"type":"line","color":"#e8231f"},"encoding":{"y":{"field":"a","type":"quantitative","title":"Session 1","scale":{"domain":[-0.7,6.4]}}}},
{"mark":{"type":"errorband","color":"#8dd0ef","opacity":1},"encoding":{"y":{"field":"d","type":"quantitative","title":"Session 1","scale":{"domain":[-0.7,6.4]}},"yError":{"field":"de"}}},
{"mark":{"type":"line","color":"#1d3a8a"},"encoding":{"y":{"field":"d","type":"quantitative","title":"Session 1","scale":{"domain":[-0.7,6.4]}}}}]},
{"data":{"name":"lab"},"transform":[{"filter":"datum.s=='1'"}],"layer":[
{"mark":"text","encoding":{"x":{"datum":-1.33,"scale":{"domain":[-1.5,1.5]}},"y":{"datum":5.7,"scale":{"domain":[-0.7,6.4]}},"text":{"field":"n1"}}},
{"mark":"text","encoding":{"x":{"datum":-1.33,"scale":{"domain":[-1.5,1.5]}},"y":{"datum":3.7,"scale":{"domain":[-0.7,6.4]}},"text":{"field":"n2"}}}]}]},
{"width":113,"height":62,"title":{"text":"Action","frame":"group","offset":12},"layer":[
{"transform":[{"filter":"datum.s=='1'&&datum.c=='A'"}],"encoding":{"x":{"field":"t","type":"quantitative","scale":{"domain":[-1.5,1.5]},"axis":{"values":[-1,0,1],"labels":false,"title":null}}},"layer":[
{"mark":{"type":"errorband","color":"#f26a58","opacity":1},"encoding":{"y":{"field":"a","type":"quantitative","scale":{"domain":[-0.7,6.4]},"axis":null},"yError":{"field":"ae"}}},
{"mark":{"type":"line","color":"#e8231f"},"encoding":{"y":{"field":"a","type":"quantitative","scale":{"domain":[-0.7,6.4]},"axis":null}}},
{"mark":{"type":"errorband","color":"#8dd0ef","opacity":1},"encoding":{"y":{"field":"d","type":"quantitative","scale":{"domain":[-0.7,6.4]},"axis":null},"yError":{"field":"de"}}},
{"mark":{"type":"line","color":"#1d3a8a"},"encoding":{"y":{"field":"d","type":"quantitative","scale":{"domain":[-0.7,6.4]},"axis":null}}}]}]},
{"width":113,"height":62,"title":{"text":"Reward","frame":"group","offset":12},"layer":[
{"transform":[{"filter":"datum.s=='1'&&datum.c=='R'"}],"encoding":{"x":{"field":"t","type":"quantitative","scale":{"domain":[-1.5,1.5]},"axis":{"values":[-1,0,1],"labels":false,"title":null}}},"layer":[
{"mark":{"type":"errorband","opacity":1},"encoding":{"y":{"field":"a","type":"quantitative","scale":{"domain":[-0.7,6.4]},"axis":null},"yError":{"field":"ae"},"color":{"datum":"Adolescent","scale":{"domain":["Adolescent","Adult"],"range":["#f26a58","#8dd0ef"]},"legend":{"orient":"none","legendX":342,"legendY":0,"title":null,"symbolType":"M-2,-1H2V1H-2Z","symbolSize":100,"symbolStrokeWidth":0,"symbolOpacity":1,"labelFontSize":14,"labelOffset":7,"rowPadding":4,"labelColor":"#111","padding":0}}}},
{"mark":{"type":"line","color":"#e8231f"},"encoding":{"y":{"field":"a","type":"quantitative","scale":{"domain":[-0.7,6.4]},"axis":null}}},
{"mark":{"type":"errorband","opacity":1},"encoding":{"y":{"field":"d","type":"quantitative","scale":{"domain":[-0.7,6.4]},"axis":null},"yError":{"field":"de"},"color":{"datum":"Adult"}}},
{"mark":{"type":"line","color":"#1d3a8a"},"encoding":{"y":{"field":"d","type":"quantitative","scale":{"domain":[-0.7,6.4]},"axis":null}}}]}]},
{"width":113,"height":62,"layer":[
{"transform":[{"filter":"datum.s=='2'&&datum.c=='C'"}],"encoding":{"x":{"field":"t","type":"quantitative","scale":{"domain":[-1.5,1.5]},"axis":{"values":[-1,0,1],"labels":false,"title":null}}},"layer":[
{"mark":{"type":"errorband","color":"#f26a58","opacity":1},"encoding":{"y":{"field":"a","type":"quantitative","title":"Session 2","scale":{"domain":[-0.7,6.4]},"axis":{"values":[0,3,6],"tickCount":3,"titlePadding":34,"labelOverlap":false}},"yError":{"field":"ae"}}},
{"mark":{"type":"line","color":"#e8231f"},"encoding":{"y":{"field":"a","type":"quantitative","title":"Session 2","scale":{"domain":[-0.7,6.4]}}}},
{"mark":{"type":"errorband","color":"#8dd0ef","opacity":1},"encoding":{"y":{"field":"d","type":"quantitative","title":"Session 2","scale":{"domain":[-0.7,6.4]}},"yError":{"field":"de"}}},
{"mark":{"type":"line","color":"#1d3a8a"},"encoding":{"y":{"field":"d","type":"quantitative","title":"Session 2","scale":{"domain":[-0.7,6.4]}}}}]},
{"data":{"name":"lab"},"transform":[{"filter":"datum.s=='2'"}],"layer":[
{"mark":"text","encoding":{"x":{"datum":-1.33,"scale":{"domain":[-1.5,1.5]}},"y":{"datum":5.7,"scale":{"domain":[-0.7,6.4]}},"text":{"field":"n1"}}},
{"mark":"text","encoding":{"x":{"datum":-1.33,"scale":{"domain":[-1.5,1.5]}},"y":{"datum":3.7,"scale":{"domain":[-0.7,6.4]}},"text":{"field":"n2"}}}]}]},
{"width":113,"height":62,"layer":[
{"transform":[{"filter":"datum.s=='2'&&datum.c=='A'"}],"encoding":{"x":{"field":"t","type":"quantitative","scale":{"domain":[-1.5,1.5]},"axis":{"values":[-1,0,1],"labels":false,"title":null}}},"layer":[
{"mark":{"type":"errorband","color":"#f26a58","opacity":1},"encoding":{"y":{"field":"a","type":"quantitative","scale":{"domain":[-0.7,6.4]},"axis":null},"yError":{"field":"ae"}}},
{"mark":{"type":"line","color":"#e8231f"},"encoding":{"y":{"field":"a","type":"quantitative","scale":{"domain":[-0.7,6.4]},"axis":null}}},
{"mark":{"type":"errorband","color":"#8dd0ef","opacity":1},"encoding":{"y":{"field":"d","type":"quantitative","scale":{"domain":[-0.7,6.4]},"axis":null},"yError":{"field":"de"}}},
{"mark":{"type":"line","color":"#1d3a8a"},"encoding":{"y":{"field":"d","type":"quantitative","scale":{"domain":[-0.7,6.4]},"axis":null}}}]}]},
{"width":113,"height":62,"layer":[
{"transform":[{"filter":"datum.s=='2'&&datum.c=='R'"}],"encoding":{"x":{"field":"t","type":"quantitative","scale":{"domain":[-1.5,1.5]},"axis":{"values":[-1,0,1],"labels":false,"title":null}}},"layer":[
{"mark":{"type":"errorband","color":"#f26a58","opacity":1},"encoding":{"y":{"field":"a","type":"quantitative","scale":{"domain":[-0.7,6.4]},"axis":null},"yError":{"field":"ae"}}},
{"mark":{"type":"line","color":"#e8231f"},"encoding":{"y":{"field":"a","type":"quantitative","scale":{"domain":[-0.7,6.4]},"axis":null}}},
{"mark":{"type":"errorband","color":"#8dd0ef","opacity":1},"encoding":{"y":{"field":"d","type":"quantitative","scale":{"domain":[-0.7,6.4]},"axis":null},"yError":{"field":"de"}}},
{"mark":{"type":"line","color":"#1d3a8a"},"encoding":{"y":{"field":"d","type":"quantitative","scale":{"domain":[-0.7,6.4]},"axis":null}}}]}]},
{"width":113,"height":62,"layer":[
{"data":{"values":[{}]},"mark":{"type":"rect","color":"#f8f8f8"},"encoding":{"x":{"datum":-3.146,"scale":{"domain":[-1.5,1.5]}},"x2":{"datum":8.51},"y":{"datum":8.4,"scale":{"domain":[-0.7,6.4]}},"y2":{"datum":-35.14}}},
{"transform":[{"filter":"datum.s=='3'&&datum.c=='C'"}],"encoding":{"x":{"field":"t","type":"quantitative","scale":{"domain":[-1.5,1.5]},"axis":{"values":[-1,0,1],"labels":false,"title":null,"zindex":1}}},"layer":[
{"mark":{"type":"errorband","color":"#f26a58","opacity":1},"encoding":{"y":{"field":"a","type":"quantitative","title":"Session 3","scale":{"domain":[-0.7,6.4]},"axis":{"values":[0,3,6],"tickCount":3,"titlePadding":34,"zindex":1,"labelOverlap":false}},"yError":{"field":"ae"}}},
{"mark":{"type":"line","color":"#e8231f"},"encoding":{"y":{"field":"a","type":"quantitative","title":"Session 3","scale":{"domain":[-0.7,6.4]}}}},
{"mark":{"type":"errorband","color":"#8dd0ef","opacity":1},"encoding":{"y":{"field":"d","type":"quantitative","title":"Session 3","scale":{"domain":[-0.7,6.4]}},"yError":{"field":"de"}}},
{"mark":{"type":"line","color":"#1d3a8a"},"encoding":{"y":{"field":"d","type":"quantitative","title":"Session 3","scale":{"domain":[-0.7,6.4]}}}}]},
{"data":{"name":"lab"},"transform":[{"filter":"datum.s=='3'"}],"layer":[
{"mark":"text","encoding":{"x":{"datum":-1.33,"scale":{"domain":[-1.5,1.5]}},"y":{"datum":5.7,"scale":{"domain":[-0.7,6.4]}},"text":{"field":"n1"}}},
{"mark":"text","encoding":{"x":{"datum":-1.33,"scale":{"domain":[-1.5,1.5]}},"y":{"datum":3.7,"scale":{"domain":[-0.7,6.4]}},"text":{"field":"n2"}}}]}]},
{"width":113,"height":62,"layer":[
{"transform":[{"filter":"datum.s=='3'&&datum.c=='A'"}],"encoding":{"x":{"field":"t","type":"quantitative","scale":{"domain":[-1.5,1.5]},"axis":{"values":[-1,0,1],"labels":false,"title":null}}},"layer":[
{"mark":{"type":"errorband","color":"#f26a58","opacity":1},"encoding":{"y":{"field":"a","type":"quantitative","scale":{"domain":[-0.7,6.4]},"axis":null},"yError":{"field":"ae"}}},
{"mark":{"type":"line","color":"#e8231f"},"encoding":{"y":{"field":"a","type":"quantitative","scale":{"domain":[-0.7,6.4]},"axis":null}}},
{"mark":{"type":"errorband","color":"#8dd0ef","opacity":1},"encoding":{"y":{"field":"d","type":"quantitative","scale":{"domain":[-0.7,6.4]},"axis":null},"yError":{"field":"de"}}},
{"mark":{"type":"line","color":"#1d3a8a"},"encoding":{"y":{"field":"d","type":"quantitative","scale":{"domain":[-0.7,6.4]},"axis":null}}}]}]},
{"width":113,"height":62,"layer":[
{"transform":[{"filter":"datum.s=='3'&&datum.c=='R'"}],"encoding":{"x":{"field":"t","type":"quantitative","scale":{"domain":[-1.5,1.5]},"axis":{"values":[-1,0,1],"labels":false,"title":null}}},"layer":[
{"mark":{"type":"errorband","color":"#f26a58","opacity":1},"encoding":{"y":{"field":"a","type":"quantitative","scale":{"domain":[-0.7,6.4]},"axis":null},"yError":{"field":"ae"}}},
{"mark":{"type":"line","color":"#e8231f"},"encoding":{"y":{"field":"a","type":"quantitative","scale":{"domain":[-0.7,6.4]},"axis":null}}},
{"mark":{"type":"errorband","color":"#8dd0ef","opacity":1},"encoding":{"y":{"field":"d","type":"quantitative","scale":{"domain":[-0.7,6.4]},"axis":null},"yError":{"field":"de"}}},
{"mark":{"type":"line","color":"#1d3a8a"},"encoding":{"y":{"field":"d","type":"quantitative","scale":{"domain":[-0.7,6.4]},"axis":null}}}]}]},
{"width":113,"height":0.5,"data":{"values":[]},"mark":"point"},
{"width":113,"height":0.5,"data":{"values":[]},"mark":"point"},
{"width":113,"height":0.5,"data":{"values":[]},"mark":"point"},
{"width":113,"height":62,"layer":[
{"transform":[{"filter":"datum.s=='4'&&datum.c=='C'"}],"encoding":{"x":{"field":"t","type":"quantitative","scale":{"domain":[-1.5,1.5]},"axis":{"values":[-1,0,1],"labels":false,"title":null}}},"layer":[
{"mark":{"type":"errorband","color":"#f26a58","opacity":1},"encoding":{"y":{"field":"a","type":"quantitative","title":"Session 4","scale":{"domain":[-0.7,6.4]},"axis":{"values":[0,3,6],"tickCount":3,"titlePadding":34,"labelOverlap":false}},"yError":{"field":"ae"}}},
{"mark":{"type":"line","color":"#e8231f"},"encoding":{"y":{"field":"a","type":"quantitative","title":"Session 4","scale":{"domain":[-0.7,6.4]}}}},
{"mark":{"type":"errorband","color":"#8dd0ef","opacity":1},"encoding":{"y":{"field":"d","type":"quantitative","title":"Session 4","scale":{"domain":[-0.7,6.4]}},"yError":{"field":"de"}}},
{"mark":{"type":"line","color":"#1d3a8a"},"encoding":{"y":{"field":"d","type":"quantitative","title":"Session 4","scale":{"domain":[-0.7,6.4]}}}}]},
{"data":{"name":"lab"},"transform":[{"filter":"datum.s=='4'"}],"layer":[
{"mark":"text","encoding":{"x":{"datum":-1.33,"scale":{"domain":[-1.5,1.5]}},"y":{"datum":5.7,"scale":{"domain":[-0.7,6.4]}},"text":{"field":"n1"}}},
{"mark":"text","encoding":{"x":{"datum":-1.33,"scale":{"domain":[-1.5,1.5]}},"y":{"datum":3.7,"scale":{"domain":[-0.7,6.4]}},"text":{"field":"n2"}}}]}]},
{"width":113,"height":62,"layer":[
{"transform":[{"filter":"datum.s=='4'&&datum.c=='A'"}],"encoding":{"x":{"field":"t","type":"quantitative","scale":{"domain":[-1.5,1.5]},"axis":{"values":[-1,0,1],"labels":false,"title":null}}},"layer":[
{"mark":{"type":"errorband","color":"#f26a58","opacity":1},"encoding":{"y":{"field":"a","type":"quantitative","scale":{"domain":[-0.7,6.4]},"axis":null},"yError":{"field":"ae"}}},
{"mark":{"type":"line","color":"#e8231f"},"encoding":{"y":{"field":"a","type":"quantitative","scale":{"domain":[-0.7,6.4]},"axis":null}}},
{"mark":{"type":"errorband","color":"#8dd0ef","opacity":1},"encoding":{"y":{"field":"d","type":"quantitative","scale":{"domain":[-0.7,6.4]},"axis":null},"yError":{"field":"de"}}},
{"mark":{"type":"line","color":"#1d3a8a"},"encoding":{"y":{"field":"d","type":"quantitative","scale":{"domain":[-0.7,6.4]},"axis":null}}}]}]},
{"width":113,"height":62,"layer":[
{"transform":[{"filter":"datum.s=='4'&&datum.c=='R'"}],"encoding":{"x":{"field":"t","type":"quantitative","scale":{"domain":[-1.5,1.5]},"axis":{"values":[-1,0,1],"labels":false,"title":null}}},"layer":[
{"mark":{"type":"errorband","color":"#f26a58","opacity":1},"encoding":{"y":{"field":"a","type":"quantitative","scale":{"domain":[-0.7,6.4]},"axis":null},"yError":{"field":"ae"}}},
{"mark":{"type":"line","color":"#e8231f"},"encoding":{"y":{"field":"a","type":"quantitative","scale":{"domain":[-0.7,6.4]},"axis":null}}},
{"mark":{"type":"errorband","color":"#8dd0ef","opacity":1},"encoding":{"y":{"field":"d","type":"quantitative","scale":{"domain":[-0.7,6.4]},"axis":null},"yError":{"field":"de"}}},
{"mark":{"type":"line","color":"#1d3a8a"},"encoding":{"y":{"field":"d","type":"quantitative","scale":{"domain":[-0.7,6.4]},"axis":null}}}]}]},
{"width":113,"height":62,"layer":[
{"transform":[{"filter":"datum.s=='5'&&datum.c=='C'"}],"encoding":{"x":{"field":"t","type":"quantitative","scale":{"domain":[-1.5,1.5]},"axis":{"values":[-1,0,1],"labels":false,"title":null}}},"layer":[
{"mark":{"type":"errorband","color":"#f26a58","opacity":1},"encoding":{"y":{"field":"a","type":"quantitative","title":["Session 5","Normalized Activity (Z-score)"],"scale":{"domain":[-0.7,6.4]},"axis":{"values":[0,3,6],"tickCount":3,"titlePadding":8,"titleLineHeight":26,"labelOverlap":false}},"yError":{"field":"ae"}}},
{"mark":{"type":"line","color":"#e8231f"},"encoding":{"y":{"field":"a","type":"quantitative","title":["Session 5","Normalized Activity (Z-score)"],"scale":{"domain":[-0.7,6.4]}}}},
{"mark":{"type":"errorband","color":"#8dd0ef","opacity":1},"encoding":{"y":{"field":"d","type":"quantitative","title":["Session 5","Normalized Activity (Z-score)"],"scale":{"domain":[-0.7,6.4]}},"yError":{"field":"de"}}},
{"mark":{"type":"line","color":"#1d3a8a"},"encoding":{"y":{"field":"d","type":"quantitative","title":["Session 5","Normalized Activity (Z-score)"],"scale":{"domain":[-0.7,6.4]}}}}]},
{"data":{"name":"lab"},"transform":[{"filter":"datum.s=='5'"}],"layer":[
{"mark":"text","encoding":{"x":{"datum":-1.33,"scale":{"domain":[-1.5,1.5]}},"y":{"datum":5.7,"scale":{"domain":[-0.7,6.4]}},"text":{"field":"n1"}}},
{"mark":"text","encoding":{"x":{"datum":-1.33,"scale":{"domain":[-1.5,1.5]}},"y":{"datum":3.7,"scale":{"domain":[-0.7,6.4]}},"text":{"field":"n2"}}}]}]},
{"width":113,"height":62,"layer":[
{"transform":[{"filter":"datum.s=='5'&&datum.c=='A'"}],"encoding":{"x":{"field":"t","type":"quantitative","scale":{"domain":[-1.5,1.5]},"axis":{"values":[-1,0,1],"labels":false,"title":null}}},"layer":[
{"mark":{"type":"errorband","color":"#f26a58","opacity":1},"encoding":{"y":{"field":"a","type":"quantitative","scale":{"domain":[-0.7,6.4]},"axis":null},"yError":{"field":"ae"}}},
{"mark":{"type":"line","color":"#e8231f"},"encoding":{"y":{"field":"a","type":"quantitative","scale":{"domain":[-0.7,6.4]},"axis":null}}},
{"mark":{"type":"errorband","color":"#8dd0ef","opacity":1},"encoding":{"y":{"field":"d","type":"quantitative","scale":{"domain":[-0.7,6.4]},"axis":null},"yError":{"field":"de"}}},
{"mark":{"type":"line","color":"#1d3a8a"},"encoding":{"y":{"field":"d","type":"quantitative","scale":{"domain":[-0.7,6.4]},"axis":null}}}]}]},
{"width":113,"height":62,"layer":[
{"transform":[{"filter":"datum.s=='5'&&datum.c=='R'"}],"encoding":{"x":{"field":"t","type":"quantitative","scale":{"domain":[-1.5,1.5]},"axis":{"values":[-1,0,1],"labels":false,"title":null}}},"layer":[
{"mark":{"type":"errorband","color":"#f26a58","opacity":1},"encoding":{"y":{"field":"a","type":"quantitative","scale":{"domain":[-0.7,6.4]},"axis":null},"yError":{"field":"ae"}}},
{"mark":{"type":"line","color":"#e8231f"},"encoding":{"y":{"field":"a","type":"quantitative","scale":{"domain":[-0.7,6.4]},"axis":null}}},
{"mark":{"type":"errorband","color":"#8dd0ef","opacity":1},"encoding":{"y":{"field":"d","type":"quantitative","scale":{"domain":[-0.7,6.4]},"axis":null},"yError":{"field":"de"}}},
{"mark":{"type":"line","color":"#1d3a8a"},"encoding":{"y":{"field":"d","type":"quantitative","scale":{"domain":[-0.7,6.4]},"axis":null}}}]}]},
{"width":113,"height":62,"layer":[
{"transform":[{"filter":"datum.s=='6'&&datum.c=='C'"}],"encoding":{"x":{"field":"t","type":"quantitative","scale":{"domain":[-1.5,1.5]},"axis":{"values":[-1,0,1],"labels":false,"title":null}}},"layer":[
{"mark":{"type":"errorband","color":"#f26a58","opacity":1},"encoding":{"y":{"field":"a","type":"quantitative","title":"Session 6","scale":{"domain":[-0.7,6.4]},"axis":{"values":[0,3,6],"tickCount":3,"titlePadding":34,"labelOverlap":false}},"yError":{"field":"ae"}}},
{"mark":{"type":"line","color":"#e8231f"},"encoding":{"y":{"field":"a","type":"quantitative","title":"Session 6","scale":{"domain":[-0.7,6.4]}}}},
{"mark":{"type":"errorband","color":"#8dd0ef","opacity":1},"encoding":{"y":{"field":"d","type":"quantitative","title":"Session 6","scale":{"domain":[-0.7,6.4]}},"yError":{"field":"de"}}},
{"mark":{"type":"line","color":"#1d3a8a"},"encoding":{"y":{"field":"d","type":"quantitative","title":"Session 6","scale":{"domain":[-0.7,6.4]}}}}]},
{"data":{"name":"lab"},"transform":[{"filter":"datum.s=='6'"}],"layer":[
{"mark":"text","encoding":{"x":{"datum":-1.33,"scale":{"domain":[-1.5,1.5]}},"y":{"datum":5.7,"scale":{"domain":[-0.7,6.4]}},"text":{"field":"n1"}}},
{"mark":"text","encoding":{"x":{"datum":-1.33,"scale":{"domain":[-1.5,1.5]}},"y":{"datum":3.7,"scale":{"domain":[-0.7,6.4]}},"text":{"field":"n2"}}}]}]},
{"width":113,"height":62,"layer":[
{"transform":[{"filter":"datum.s=='6'&&datum.c=='A'"}],"encoding":{"x":{"field":"t","type":"quantitative","scale":{"domain":[-1.5,1.5]},"axis":{"values":[-1,0,1],"labels":false,"title":null}}},"layer":[
{"mark":{"type":"errorband","color":"#f26a58","opacity":1},"encoding":{"y":{"field":"a","type":"quantitative","scale":{"domain":[-0.7,6.4]},"axis":null},"yError":{"field":"ae"}}},
{"mark":{"type":"line","color":"#e8231f"},"encoding":{"y":{"field":"a","type":"quantitative","scale":{"domain":[-0.7,6.4]},"axis":null}}},
{"mark":{"type":"errorband","color":"#8dd0ef","opacity":1},"encoding":{"y":{"field":"d","type":"quantitative","scale":{"domain":[-0.7,6.4]},"axis":null},"yError":{"field":"de"}}},
{"mark":{"type":"line","color":"#1d3a8a"},"encoding":{"y":{"field":"d","type":"quantitative","scale":{"domain":[-0.7,6.4]},"axis":null}}}]}]},
{"width":113,"height":62,"layer":[
{"transform":[{"filter":"datum.s=='6'&&datum.c=='R'"}],"encoding":{"x":{"field":"t","type":"quantitative","scale":{"domain":[-1.5,1.5]},"axis":{"values":[-1,0,1],"labels":false,"title":null}}},"layer":[
{"mark":{"type":"errorband","color":"#f26a58","opacity":1},"encoding":{"y":{"field":"a","type":"quantitative","scale":{"domain":[-0.7,6.4]},"axis":null},"yError":{"field":"ae"}}},
{"mark":{"type":"line","color":"#e8231f"},"encoding":{"y":{"field":"a","type":"quantitative","scale":{"domain":[-0.7,6.4]},"axis":null}}},
{"mark":{"type":"errorband","color":"#8dd0ef","opacity":1},"encoding":{"y":{"field":"d","type":"quantitative","scale":{"domain":[-0.7,6.4]},"axis":null},"yError":{"field":"de"}}},
{"mark":{"type":"line","color":"#1d3a8a"},"encoding":{"y":{"field":"d","type":"quantitative","scale":{"domain":[-0.7,6.4]},"axis":null}}}]}]},
{"width":113,"height":62,"layer":[
{"transform":[{"filter":"datum.s=='7R'&&datum.c=='C'"}],"encoding":{"x":{"field":"t","type":"quantitative","scale":{"domain":[-1.5,1.5]},"axis":{"values":[-1,0,1],"labels":false,"title":null}}},"layer":[
{"mark":{"type":"errorband","color":"#f26a58","opacity":1},"encoding":{"y":{"field":"a","type":"quantitative","title":"Session 7R","scale":{"domain":[-0.7,6.4]},"axis":{"values":[0,3,6],"tickCount":3,"titlePadding":34,"labelOverlap":false}},"yError":{"field":"ae"}}},
{"mark":{"type":"line","color":"#e8231f"},"encoding":{"y":{"field":"a","type":"quantitative","title":"Session 7R","scale":{"domain":[-0.7,6.4]}}}},
{"mark":{"type":"errorband","color":"#8dd0ef","opacity":1},"encoding":{"y":{"field":"d","type":"quantitative","title":"Session 7R","scale":{"domain":[-0.7,6.4]}},"yError":{"field":"de"}}},
{"mark":{"type":"line","color":"#1d3a8a"},"encoding":{"y":{"field":"d","type":"quantitative","title":"Session 7R","scale":{"domain":[-0.7,6.4]}}}}]},
{"data":{"name":"lab"},"transform":[{"filter":"datum.s=='7R'"}],"layer":[
{"mark":"text","encoding":{"x":{"datum":-1.33,"scale":{"domain":[-1.5,1.5]}},"y":{"datum":5.7,"scale":{"domain":[-0.7,6.4]}},"text":{"field":"n1"}}},
{"mark":"text","encoding":{"x":{"datum":-1.33,"scale":{"domain":[-1.5,1.5]}},"y":{"datum":3.7,"scale":{"domain":[-0.7,6.4]}},"text":{"field":"n2"}}}]}]},
{"width":113,"height":62,"layer":[
{"transform":[{"filter":"datum.s=='7R'&&datum.c=='A'"}],"encoding":{"x":{"field":"t","type":"quantitative","scale":{"domain":[-1.5,1.5]},"axis":{"values":[-1,0,1],"labels":false,"title":null}}},"layer":[
{"mark":{"type":"errorband","color":"#f26a58","opacity":1},"encoding":{"y":{"field":"a","type":"quantitative","scale":{"domain":[-0.7,6.4]},"axis":null},"yError":{"field":"ae"}}},
{"mark":{"type":"line","color":"#e8231f"},"encoding":{"y":{"field":"a","type":"quantitative","scale":{"domain":[-0.7,6.4]},"axis":null}}},
{"mark":{"type":"errorband","color":"#8dd0ef","opacity":1},"encoding":{"y":{"field":"d","type":"quantitative","scale":{"domain":[-0.7,6.4]},"axis":null},"yError":{"field":"de"}}},
{"mark":{"type":"line","color":"#1d3a8a"},"encoding":{"y":{"field":"d","type":"quantitative","scale":{"domain":[-0.7,6.4]},"axis":null}}}]}]},
{"width":113,"height":62,"layer":[
{"transform":[{"filter":"datum.s=='7R'&&datum.c=='R'"}],"encoding":{"x":{"field":"t","type":"quantitative","scale":{"domain":[-1.5,1.5]},"axis":{"values":[-1,0,1],"labels":false,"title":null}}},"layer":[
{"mark":{"type":"errorband","color":"#f26a58","opacity":1},"encoding":{"y":{"field":"a","type":"quantitative","scale":{"domain":[-0.7,6.4]},"axis":null},"yError":{"field":"ae"}}},
{"mark":{"type":"line","color":"#e8231f"},"encoding":{"y":{"field":"a","type":"quantitative","scale":{"domain":[-0.7,6.4]},"axis":null}}},
{"mark":{"type":"errorband","color":"#8dd0ef","opacity":1},"encoding":{"y":{"field":"d","type":"quantitative","scale":{"domain":[-0.7,6.4]},"axis":null},"yError":{"field":"de"}}},
{"mark":{"type":"line","color":"#1d3a8a"},"encoding":{"y":{"field":"d","type":"quantitative","scale":{"domain":[-0.7,6.4]},"axis":null}}}]}]},
{"width":113,"height":70,"layer":[
{"data":{"values":[{}]},"mark":{"type":"rect","color":"#e9edf6"},"encoding":{"x":{"datum":-1.89,"scale":{"domain":[-1.5,1.5]}},"x2":{"datum":8.395},"y":{"datum":8.14,"scale":{"domain":[-0.7,7.32]}},"y2":{"datum":-12.63}}},
{"transform":[{"filter":"datum.s=='7E'&&datum.c=='C'"}],"encoding":{"x":{"field":"t","type":"quantitative","scale":{"domain":[-1.5,1.5]},"axis":{"values":[-1,0,1],"labels":false,"title":null,"zindex":1}}},"layer":[
{"mark":{"type":"errorband","color":"#f26a58","opacity":1},"encoding":{"y":{"field":"a","type":"quantitative","title":"Session 7E","scale":{"domain":[-0.7,7.32]},"axis":{"values":[0,3,6],"tickCount":3,"titlePadding":34,"zindex":1,"labelOverlap":false}},"yError":{"field":"ae"}}},
{"mark":{"type":"line","color":"#e8231f"},"encoding":{"y":{"field":"a","type":"quantitative","title":"Session 7E","scale":{"domain":[-0.7,7.32]}}}},
{"mark":{"type":"errorband","color":"#8dd0ef","opacity":1},"encoding":{"y":{"field":"d","type":"quantitative","title":"Session 7E","scale":{"domain":[-0.7,7.32]}},"yError":{"field":"de"}}},
{"mark":{"type":"line","color":"#1d3a8a"},"encoding":{"y":{"field":"d","type":"quantitative","title":"Session 7E","scale":{"domain":[-0.7,7.32]}}}}]},
{"data":{"name":"lab"},"transform":[{"filter":"datum.s=='7E'"}],"layer":[
{"mark":"text","encoding":{"x":{"datum":-1.33,"scale":{"domain":[-1.5,1.5]}},"y":{"datum":5.7,"scale":{"domain":[-0.7,7.32]}},"text":{"field":"n1"}}},
{"mark":"text","encoding":{"x":{"datum":-1.33,"scale":{"domain":[-1.5,1.5]}},"y":{"datum":3.7,"scale":{"domain":[-0.7,7.32]}},"text":{"field":"n2"}}}]}]},
{"width":113,"height":70,"layer":[
{"transform":[{"filter":"datum.s=='7E'&&datum.c=='A'"}],"encoding":{"x":{"field":"t","type":"quantitative","scale":{"domain":[-1.5,1.5]},"axis":{"values":[-1,0,1],"labels":false,"title":null}}},"layer":[
{"mark":{"type":"errorband","color":"#f26a58","opacity":1},"encoding":{"y":{"field":"a","type":"quantitative","scale":{"domain":[-0.7,7.32]},"axis":null},"yError":{"field":"ae"}}},
{"mark":{"type":"line","color":"#e8231f"},"encoding":{"y":{"field":"a","type":"quantitative","scale":{"domain":[-0.7,7.32]},"axis":null}}},
{"mark":{"type":"errorband","color":"#8dd0ef","opacity":1},"encoding":{"y":{"field":"d","type":"quantitative","scale":{"domain":[-0.7,7.32]},"axis":null},"yError":{"field":"de"}}},
{"mark":{"type":"line","color":"#1d3a8a"},"encoding":{"y":{"field":"d","type":"quantitative","scale":{"domain":[-0.7,7.32]},"axis":null}}}]}]},
{"width":113,"height":70,"layer":[
{"transform":[{"filter":"datum.s=='7E'&&datum.c=='R'"}],"encoding":{"x":{"field":"t","type":"quantitative","scale":{"domain":[-1.5,1.5]},"axis":{"values":[-1,0,1],"labels":false,"title":null}}},"layer":[
{"mark":{"type":"errorband","color":"#f26a58","opacity":1},"encoding":{"y":{"field":"a","type":"quantitative","scale":{"domain":[-0.7,7.32]},"axis":null},"yError":{"field":"ae"}}},
{"mark":{"type":"line","color":"#e8231f"},"encoding":{"y":{"field":"a","type":"quantitative","scale":{"domain":[-0.7,7.32]},"axis":null}}},
{"mark":{"type":"errorband","color":"#8dd0ef","opacity":1},"encoding":{"y":{"field":"d","type":"quantitative","scale":{"domain":[-0.7,7.32]},"axis":null},"yError":{"field":"de"}}},
{"mark":{"type":"line","color":"#1d3a8a"},"encoding":{"y":{"field":"d","type":"quantitative","scale":{"domain":[-0.7,7.32]},"axis":null}}}]},
{"data":{"name":"lab"},"transform":[{"filter":"datum.s=='7E'"}],"mark":{"type":"text","align":"center"},"encoding":{"x":{"datum":0,"scale":{"domain":[-1.5,1.5]}},"y":{"datum":6.25,"scale":{"domain":[-0.7,7.32]},"axis":null},"text":{"field":"note"}}}]},
{"width":113,"height":62,"layer":[
{"transform":[{"filter":"datum.s=='8'&&datum.c=='C'"}],"encoding":{"x":{"field":"t","type":"quantitative","scale":{"domain":[-1.5,1.5]},"axis":{"values":[-1,0,1],"title":null}}},"layer":[
{"mark":{"type":"errorband","color":"#f26a58","opacity":1},"encoding":{"y":{"field":"a","type":"quantitative","title":"Session 8","scale":{"domain":[-0.7,6.4]},"axis":{"values":[0,3,6],"tickCount":3,"titlePadding":34,"labelOverlap":false}},"yError":{"field":"ae"}}},
{"mark":{"type":"line","color":"#e8231f"},"encoding":{"y":{"field":"a","type":"quantitative","title":"Session 8","scale":{"domain":[-0.7,6.4]}}}},
{"mark":{"type":"errorband","color":"#8dd0ef","opacity":1},"encoding":{"y":{"field":"d","type":"quantitative","title":"Session 8","scale":{"domain":[-0.7,6.4]}},"yError":{"field":"de"}}},
{"mark":{"type":"line","color":"#1d3a8a"},"encoding":{"y":{"field":"d","type":"quantitative","title":"Session 8","scale":{"domain":[-0.7,6.4]}}}}]},
{"data":{"name":"lab"},"transform":[{"filter":"datum.s=='8'"}],"layer":[
{"mark":"text","encoding":{"x":{"datum":-1.33,"scale":{"domain":[-1.5,1.5]}},"y":{"datum":5.7,"scale":{"domain":[-0.7,6.4]}},"text":{"field":"n1"}}},
{"mark":"text","encoding":{"x":{"datum":-1.33,"scale":{"domain":[-1.5,1.5]}},"y":{"datum":3.7,"scale":{"domain":[-0.7,6.4]}},"text":{"field":"n2"}}}]}]},
{"width":113,"height":62,"layer":[
{"transform":[{"filter":"datum.s=='8'&&datum.c=='A'"}],"encoding":{"x":{"field":"t","type":"quantitative","scale":{"domain":[-1.5,1.5]},"axis":{"values":[-1,0,1],"title":"Time (sec)"}}},"layer":[
{"mark":{"type":"errorband","color":"#f26a58","opacity":1},"encoding":{"y":{"field":"a","type":"quantitative","scale":{"domain":[-0.7,6.4]},"axis":null},"yError":{"field":"ae"}}},
{"mark":{"type":"line","color":"#e8231f"},"encoding":{"y":{"field":"a","type":"quantitative","scale":{"domain":[-0.7,6.4]},"axis":null}}},
{"mark":{"type":"errorband","color":"#8dd0ef","opacity":1},"encoding":{"y":{"field":"d","type":"quantitative","scale":{"domain":[-0.7,6.4]},"axis":null},"yError":{"field":"de"}}},
{"mark":{"type":"line","color":"#1d3a8a"},"encoding":{"y":{"field":"d","type":"quantitative","scale":{"domain":[-0.7,6.4]},"axis":null}}}]}]},
{"width":113,"height":62,"layer":[
{"transform":[{"filter":"datum.s=='8'&&datum.c=='R'"}],"encoding":{"x":{"field":"t","type":"quantitative","scale":{"domain":[-1.5,1.5]},"axis":{"values":[-1,0,1],"title":null}}},"layer":[
{"mark":{"type":"errorband","color":"#f26a58","opacity":1},"encoding":{"y":{"field":"a","type":"quantitative","scale":{"domain":[-0.7,6.4]},"axis":null},"yError":{"field":"ae"}}},
{"mark":{"type":"line","color":"#e8231f"},"encoding":{"y":{"field":"a","type":"quantitative","scale":{"domain":[-0.7,6.4]},"axis":null}}},
{"mark":{"type":"errorband","color":"#8dd0ef","opacity":1},"encoding":{"y":{"field":"d","type":"quantitative","scale":{"domain":[-0.7,6.4]},"axis":null},"yError":{"field":"de"}}},
{"mark":{"type":"line","color":"#1d3a8a"},"encoding":{"y":{"field":"d","type":"quantitative","scale":{"domain":[-0.7,6.4]},"axis":null}}}]},
{"data":{"name":"lab"},"transform":[{"filter":"datum.s=='8'"}],"mark":{"type":"text","align":"center"},"encoding":{"x":{"datum":0,"scale":{"domain":[-1.5,1.5]}},"y":{"datum":6.25,"scale":{"domain":[-0.7,6.4]},"axis":null},"text":{"field":"note"}}}]}
],
"config":{
"view":{"stroke":null},
"font":"Liberation Sans",
"axis":{"domainColor":"#808080","domainWidth":1.6,"tickColor":"#808080","labelFontSize":14,"labelColor":"#111","titleFontSize":14,"titleFontWeight":"normal","titleColor":"#111","grid":false,"zindex":1,"labelOverlap":false,"labelFont":"Liberation Sans","titleFont":"Liberation Sans"},
"axisX":{"tickSize":-3,"labelPadding":5},
"axisY":{"ticks":false,"labelPadding":3,"labelOverlap":false,"tickCount":3},
"title":{"fontSize":14,"fontWeight":"normal","color":"#111","font":"Liberation Sans"},
"text":{"font":"Liberation Sans","fontSize":14,"color":"#111","align":"left","baseline":"middle"},
"line":{"strokeWidth":1.3},
"legend":{"labelFont":"Liberation Sans"}
}
}
